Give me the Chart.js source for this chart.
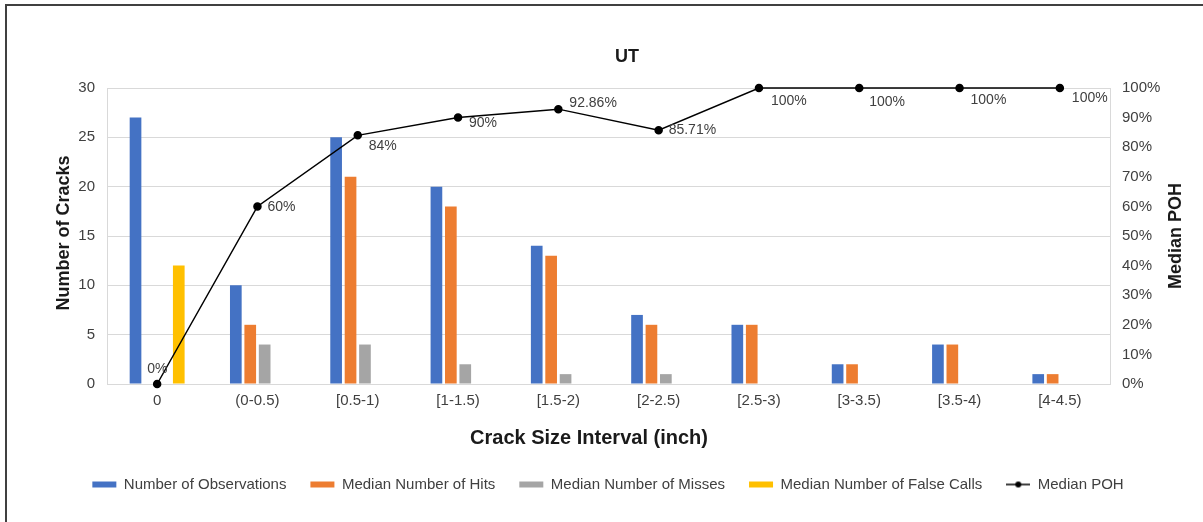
<!DOCTYPE html>
<html>
<head>
<meta charset="utf-8">
<script src="https://cdn.jsdelivr.net/npm/chart.js@4.4.1/dist/chart.umd.min.js"></script>
<style>
  html, body { margin: 0; padding: 0; background: #fff; }
  #wrap { position: relative; width: 1203px; height: 522px; }
  #frame { position: absolute; left: 5px; top: 4px; right: 0; bottom: 0; border-top: 2px solid #404040; border-left: 2px solid #404040; pointer-events: none; }
</style>
</head>
<body>
<div id="wrap">
  <canvas id="chart" width="1203" height="522"></canvas>
  <div id="frame"></div>
</div>
<script>
const categories = ['0', '(0-0.5)', '[0.5-1)', '[1-1.5)', '[1.5-2)', '[2-2.5)', '[2.5-3)', '[3-3.5)', '[3.5-4)', '[4-4.5)'];
const observations = [27, 10, 25, 20, 14, 7, 6, 2, 4, 1];
const hits = [0, 6, 21, 18, 13, 6, 6, 2, 4, 1];
const misses = [0, 4, 4, 2, 1, 1, 0, 0, 0, 0];
const falseCalls = [12, 0, 0, 0, 0, 0, 0, 0, 0, 0];
const medianPOH = [0, 60, 84, 90, 92.86, 85.71, 100, 100, 100, 100];

// where each POH label sits relative to its point (dx, dy)
const labelShift = [[-10, -15], [10, 1], [11, 11], [11, 6], [11, -6], [10, 0], [12, 13], [10, 14], [11, 12], [12, 10]];

const FONT = "'Liberation Sans', Arial, sans-serif";
const TICK = '#404040';
const GRID = '#d9d9d9';

Chart.defaults.font.family = FONT;

// little line-with-dot icon for the POH legend entry
const lineIcon = document.createElement('canvas');
lineIcon.width = 24;
lineIcon.height = 8;
(function () {
  const c = lineIcon.getContext('2d');
  c.strokeStyle = '#000';
  c.lineWidth = 1.5;
  c.beginPath();
  c.moveTo(0, 4);
  c.lineTo(24, 4);
  c.stroke();
  c.fillStyle = '#000';
  c.beginPath();
  c.arc(12, 4, 3, 0, Math.PI * 2);
  c.fill();
})();

const overlay = {
  id: 'overlay',
  afterDatasetsDraw(chart) {
    const ctx = chart.ctx;
    const meta = chart.getDatasetMeta(4);
    ctx.save();
    ctx.font = '14px ' + FONT;
    ctx.fillStyle = '#404040';
    ctx.textAlign = 'left';
    ctx.textBaseline = 'middle';
    meta.data.forEach((pt, i) => {
      ctx.fillText(medianPOH[i] + '%', pt.x + labelShift[i][0], pt.y + labelShift[i][1]);
    });
    ctx.restore();
  },
  afterDraw(chart) {
    const ctx = chart.ctx;
    ctx.save();
    ctx.fillStyle = '#1a1a1a';
    ctx.textAlign = 'center';
    ctx.textBaseline = 'middle';

    ctx.font = 'bold 18px ' + FONT;
    ctx.fillText('UT', 627, 57);

    ctx.font = 'bold 20px ' + FONT;
    ctx.fillText('Crack Size Interval (inch)', 589, 438);

    ctx.font = 'bold 18px ' + FONT;
    ctx.save();
    ctx.translate(64, 233);
    ctx.rotate(-Math.PI / 2);
    ctx.fillText('Number of Cracks', 0, 0);
    ctx.restore();

    ctx.save();
    ctx.translate(1176, 236);
    ctx.rotate(-Math.PI / 2);
    ctx.fillText('Median POH', 0, 0);
    ctx.restore();

    ctx.restore();
  }
};

const barStyle = { barPercentage: 0.81, categoryPercentage: 0.575, borderWidth: 0, pointStyle: 'rect', order: 1 };

new Chart(document.getElementById('chart'), {
  type: 'bar',
  data: {
    labels: categories,
    datasets: [
      { label: 'Number of Observations', data: observations, backgroundColor: '#4472C4', ...barStyle },
      { label: 'Median Number of Hits', data: hits, backgroundColor: '#ED7D31', ...barStyle },
      { label: 'Median Number of Misses', data: misses, backgroundColor: '#A5A5A5', ...barStyle },
      { label: 'Median Number of False Calls', data: falseCalls, backgroundColor: '#FFC000', ...barStyle },
      {
        type: 'line',
        label: 'Median POH',
        data: medianPOH,
        yAxisID: 'y1',
        borderColor: '#000',
        backgroundColor: '#000',
        borderWidth: 1.5,
        pointRadius: 3.5,
        pointHoverRadius: 3.5,
        tension: 0,
        clip: false,
        order: 0
      }
    ]
  },
  options: {
    responsive: false,
    animation: false,
    layout: { padding: { left: 29, right: 16, top: 88, bottom: 20 } },
    scales: {
      x: {
        grid: { display: false, drawTicks: false },
        border: { display: true, color: GRID },
        ticks: { color: TICK, font: { size: 15 }, padding: 8, maxRotation: 0 },
        afterFit(scale) { scale.height = 69; }
      },
      y: {
        position: 'left',
        min: 0,
        max: 30,
        ticks: { stepSize: 5, color: TICK, font: { size: 15 }, padding: 12 },
        grid: { color: GRID, drawTicks: false },
        border: { display: true, color: GRID },
        afterFit(scale) { scale.width = 78; }
      },
      y1: {
        position: 'right',
        min: 0,
        max: 100,
        ticks: { stepSize: 10, color: TICK, font: { size: 15 }, padding: 12, callback: v => v + '%' },
        grid: { display: false, drawTicks: false },
        border: { display: true, color: GRID },
        afterFit(scale) { scale.width = 77; }
      }
    },
    plugins: {
      title: { display: false },
      tooltip: { enabled: false },
      legend: {
        position: 'bottom',
        labels: {
          usePointStyle: true,
          pointStyleWidth: 24,
          boxHeight: 6,
          padding: 24,
          color: TICK,
          font: { size: 15 },
          sort: (a, b) => a.datasetIndex - b.datasetIndex,
          generateLabels(chart) {
            const items = Chart.defaults.plugins.legend.labels.generateLabels(chart);
            items.forEach(it => {
              it.pointStyle = chart.data.datasets[it.datasetIndex].type === 'line' ? lineIcon : 'rect';
              it.lineWidth = 0;
            });
            return items;
          }
        }
      }
    }
  },
  plugins: [overlay]
});
</script>
</body>
</html>
